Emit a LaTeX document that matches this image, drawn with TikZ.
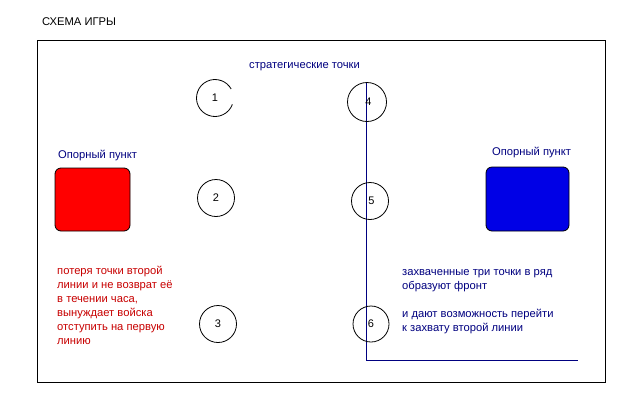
\documentclass[tikz,border=0pt]{standalone}
\usepackage{fontspec}
\setmainfont{Liberation Sans}
\definecolor{navytext}{RGB}{0,0,128}
\definecolor{darkredtext}{RGB}{200,0,0}
\definecolor{boxred}{RGB}{255,0,0}
\definecolor{boxblue}{RGB}{0,0,230}
\tikzset{
  pointc/.style={circle, draw=black, line width=0.8pt, minimum size=37pt, inner sep=0pt, font=\fontsize{11}{12}\selectfont},
  lbl/.style={inner sep=0pt, anchor=west, font=\fontsize{11.2}{14}\selectfont},
  basebox/.style={rounded corners=6pt, draw=black, line width=0.8pt},
}
\begin{document}
\begin{tikzpicture}[x=1pt,y=-1pt]
\useasboundingbox (0,0) rectangle (640,400);
\fill[white] (0,0) rectangle (640,400);
% frame
\draw[line width=1pt] (37,40) rectangle (605,382);
% title
\node[lbl] (title) at (42,22) {СХЕМА ИГРЫ};
\node[lbl, text=navytext] (strat) at (249,67) {стратегические точки};
% bases
\node[lbl, text=navytext] (lbase) at (58,155) {Опорный пункт};
\node[lbl, text=navytext] (rbase) at (492,153) {Опорный пункт};
\path[basebox, fill=boxred] (55,168) rectangle (130,231);
\path[basebox, fill=boxblue] (486,167) rectangle (569,231);
% front line
\coordinate (ftop) at (366,82);
\coordinate (fcorner) at (366,360);
\coordinate (fend) at (578,360);
\draw[navytext, line width=1pt] (ftop) -- (fcorner) -- (fend);
% points
\node[pointc, draw=none] (p1) at (215,98) {1};
\draw[line width=0.8pt] (p1.center) ++(20:18.5) arc[start angle=20, end angle=331, radius=18.5];
\node[pointc] (p2) at (216,198) {2};
\node[pointc] (p3) at (218,324) {3};
\node[pointc, minimum size=39pt] (p4) at (367,102) {\hspace*{3pt}4};
\node[pointc] (p5) at (370,201) {\hspace*{3pt}5};
\node[pointc, minimum size=36pt] (p6) at (371,324) {6};
% texts
\node[lbl, text=darkredtext, align=left, anchor=north west] (loss) at (57,266) {потеря точки второй\\линии и не возврат её\\в течении часа,\\вынуждает войска\\отступить на первую\\линию};
\node[lbl, text=navytext, align=left, anchor=north west] (front1) at (402,269) {захваченные три точки в ряд\\образуют фронт};
\node[lbl, text=navytext, align=left, anchor=north west] (front2) at (402,309) {и дают возможность перейти\\к захвату второй линии};
\end{tikzpicture}
\end{document}
